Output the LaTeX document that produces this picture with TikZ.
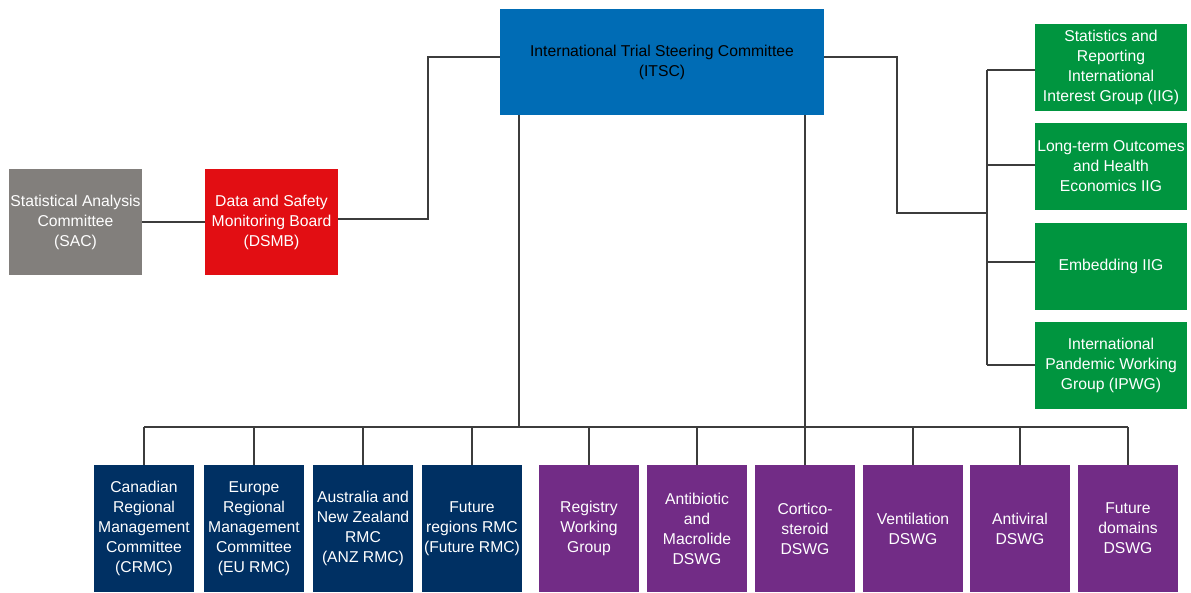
\documentclass[tikz,border=0pt]{standalone}
\usepackage{fontspec}
\setmainfont{Liberation Sans}
\definecolor{itscblue}{RGB}{0,108,181}
\definecolor{sacgray}{RGB}{130,127,124}
\definecolor{dsmbred}{RGB}{226,14,19}
\definecolor{iiggreen}{RGB}{0,149,63}
\definecolor{rmcnavy}{RGB}{0,48,99}
\definecolor{dswgpurple}{RGB}{114,44,134}
\definecolor{linegray}{RGB}{60,60,60}
\tikzset{
  box/.style={rectangle, inner sep=0pt, align=center, text=white,
    font=\fontsize{15.7}{20}\selectfont},
  topbox/.style={box, fill=itscblue, text=black, minimum width=324pt, minimum height=106pt},
  sidebox/.style={box, minimum width=133pt, minimum height=106pt},
  greenbox/.style={box, fill=iiggreen, minimum width=152pt, minimum height=87pt},
  navybox/.style={box, fill=rmcnavy, minimum width=100pt, minimum height=127pt},
  purplebox/.style={box, fill=dswgpurple, minimum width=100pt, minimum height=127pt},
  conn/.style={draw=linegray, line width=1.5pt}
}
\begin{document}
\begin{tikzpicture}[x=1pt, y=-1pt]
\useasboundingbox (0,0) rectangle (1191,592);
\fill[white] (0,0) rectangle (1191,592);

% coordinates for connector corners
\coordinate (lj) at (428,138);
\coordinate (rj) at (897,135);
\coordinate (rb) at (987,213);
\coordinate (bus) at (0,427);
\coordinate (dl) at (519,427);
\coordinate (dr) at (805,427);

\node[topbox] (itsc) at (662,62) {International Trial Steering Committee\\(ITSC)};
\node[sidebox, fill=sacgray] (sac) at (75.5,222) {Statistical Analysis\\Committee\\(SAC)};
\node[sidebox, fill=dsmbred] (dsmb) at (271.5,222) {Data and Safety\\Monitoring Board\\(DSMB)};

\node[greenbox] (g1) at (1111,67.5) {Statistics and\\Reporting\\International\\Interest Group (IIG)};
\node[greenbox] (g2) at (1111,166.5) {Long-term Outcomes\\and Health\\Economics IIG};
\node[greenbox] (g3) at (1111,266.5) {Embedding IIG};
\node[greenbox] (g4) at (1111,365.5) {International\\Pandemic Working\\Group (IPWG)};

\node[navybox] (n1) at (144,528.5) {Canadian\\Regional\\Management\\Committee\\(CRMC)};
\node[navybox] (n2) at (254,528.5) {Europe\\Regional\\Management\\Committee\\(EU RMC)};
\node[navybox] (n3) at (363,528.5) {Australia and\\New Zealand\\RMC\\(ANZ RMC)};
\node[navybox] (n4) at (472,528.5) {Future\\regions RMC\\(Future RMC)};

\node[purplebox] (p1) at (589,528.5) {Registry\\Working\\Group};
\node[purplebox] (p2) at (697,528.5) {Antibiotic\\and\\Macrolide\\DSWG};
\node[purplebox] (p3) at (805,528.5) {Cortico-\\steroid\\DSWG};
\node[purplebox] (p4) at (913,528.5) {Ventilation\\DSWG};
\node[purplebox] (p5) at (1020,528.5) {Antiviral\\DSWG};
\node[purplebox] (p6) at (1128,528.5) {Future\\domains\\DSWG};

% left branch
\draw[conn] ([yshift=5pt]itsc.west) -| (lj) |- ([yshift=3pt]dsmb.east);
\draw[conn] (sac.east) -- (dsmb.west);

% right branch
\draw[conn] ([yshift=5pt]itsc.east) -| (rj) |- (rb);
\draw[conn] ([yshift=-2.5pt]g1.west -| rb) -- ([yshift=0.5pt]g4.west -| rb);
\draw[conn] ([yshift=-2.5pt]g1.west) -- ([yshift=-2.5pt]g1.west -| rb);
\draw[conn] ([yshift=1.5pt]g2.west) -- ([yshift=1.5pt]g2.west -| rb);
\draw[conn] ([yshift=4.5pt]g3.west) -- ([yshift=4.5pt]g3.west -| rb);
\draw[conn] ([yshift=0.5pt]g4.west) -- ([yshift=0.5pt]g4.west -| rb);

% bottom bus
\draw[conn] (itsc.south -| dl) -- (dl);
\draw[conn] (itsc.south -| dr) -- (dr);
\draw[conn] (n1.north |- bus) -- (p6.north |- bus);
\foreach \b in {n1,n2,n3,n4,p1,p2,p3,p4,p5,p6}{
  \draw[conn] (\b.north) -- (\b.north |- bus);
}
\end{tikzpicture}
\end{document}
